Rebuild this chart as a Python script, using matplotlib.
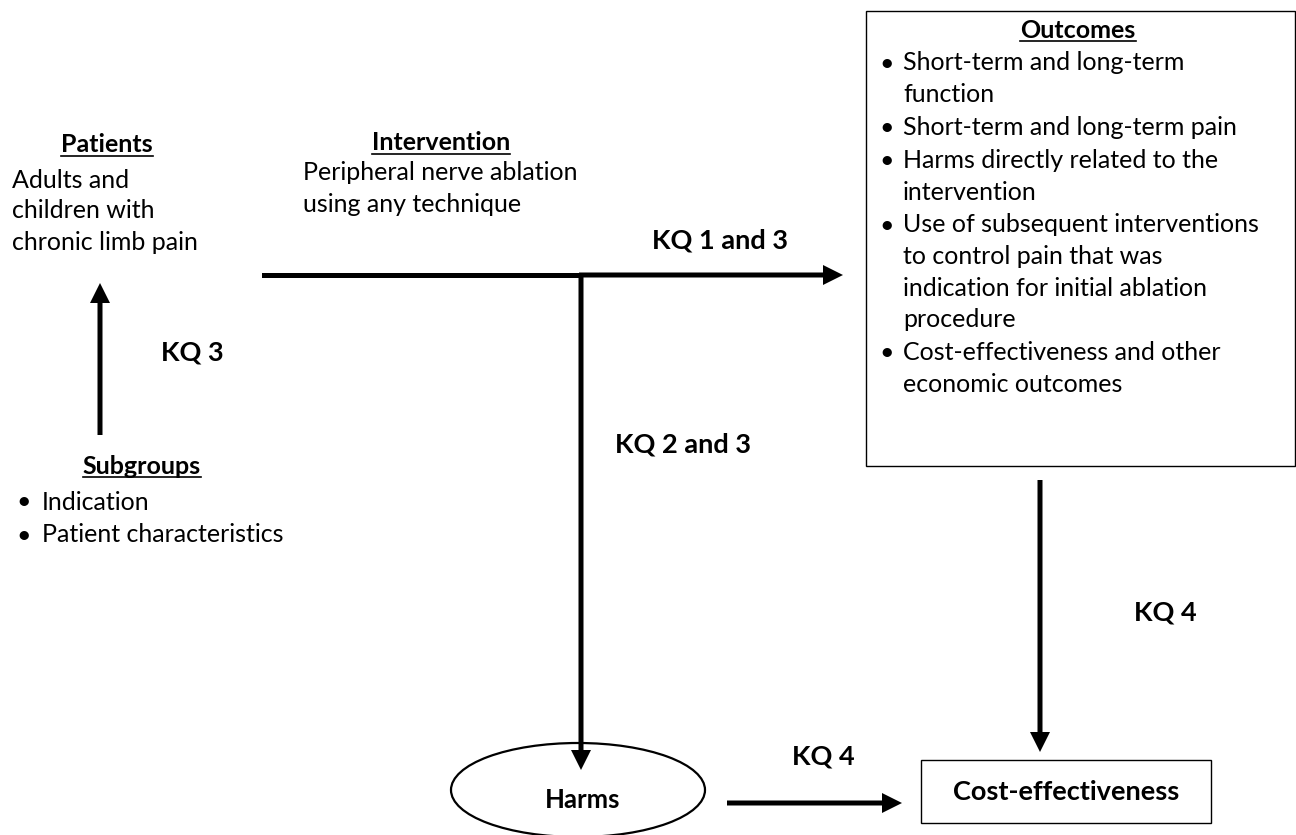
import matplotlib
matplotlib.use("Agg")
import matplotlib.pyplot as plt
from matplotlib.patches import Rectangle, Ellipse, FancyArrow

plt.rcParams['font.family'] = ['Lato', 'DejaVu Sans']

# text content of the diagram
patients_title = "Patients"
patients_lines = ["Adults and", "children with", "chronic limb pain"]
intervention_title = "Intervention"
intervention_lines = ["Peripheral nerve ablation", "using any technique"]
subgroups_title = "Subgroups"
subgroups_items = ["Indication", "Patient characteristics"]
outcomes_title = "Outcomes"
outcomes_items = [
    ["Short-term and long-term", "function"],
    ["Short-term and long-term pain"],
    ["Harms directly related to the", "intervention"],
    ["Use of subsequent interventions", "to control pain that was",
     "indication for initial ablation", "procedure"],
    ["Cost-effectiveness and other", "economic outcomes"],
]
kq_labels = ["KQ 1 and 3", "KQ 2 and 3", "KQ 3", "KQ 4", "KQ 4"]
harms_label = "Harms"
cost_label = "Cost-effectiveness"

W, H = 1296, 835
FS = 18
FSB = 19.5
LW = 5       # arrow shaft width in px
HW, HL = 20, 20

fig = plt.figure(figsize=(W / 100, H / 100), dpi=100)
ax = fig.add_axes([0, 0, 1, 1])
ax.set_xlim(0, W)
ax.set_ylim(H, 0)
ax.axis('off')

underline_targets = []


def header(x, y, s):
    t = ax.text(x, y, s, fontsize=FS, fontweight='bold', ha='center', va='center')
    underline_targets.append(t)


def arrow(x0, y0, x1, y1):
    ax.add_patch(FancyArrow(x0, y0, x1 - x0, y1 - y0, width=LW, head_width=HW,
                            head_length=HL, length_includes_head=True,
                            color='black', lw=0))


# patients
header(107, 145, patients_title)
for i, s in enumerate(patients_lines):
    ax.text(12, 180 + i * 31, s, fontsize=FS, va='center')

# intervention
header(441, 143, intervention_title)
for i, s in enumerate(intervention_lines):
    ax.text(303, 173 + i * 31, s, fontsize=FS, va='center')

# subgroups
header(142, 466, subgroups_title)
for i, s in enumerate(subgroups_items):
    y = 502 + i * 33
    ax.text(24, y, "\u2022", fontsize=FS, va='center', ha='center')
    ax.text(42, y, s, fontsize=FS, va='center')

# outcomes box
ax.add_patch(Rectangle((866, 11), 1295 - 866, 466 - 11, fill=False, ec='black', lw=1))
header(1078, 30, outcomes_title)
y = 63
for item in outcomes_items:
    ax.text(887, y, "\u2022", fontsize=FS, va='center', ha='center')
    for s in item:
        ax.text(903, y, s, fontsize=FS, va='center')
        y += 31.5
    y += 1.5

# arrows
ax.add_patch(Rectangle((262, 275 - LW / 2), 581 - 262, LW, color='black', lw=0))
arrow(579, 275, 843, 275)
arrow(581, 273, 581, 770)
arrow(100, 435, 100, 283)
arrow(1040, 480, 1040, 752)
arrow(727, 803, 902, 803)

# KQ labels
kq_pos = [(720, 240), (683, 445), (192, 352), (1165, 612), (823, 757)]
for (x, y), s in zip(kq_pos, kq_labels):
    ax.text(x, y, s, fontsize=FSB, fontweight='bold', ha='center', va='center')

# harms ellipse
ax.add_patch(Ellipse((578, 790), 254, 94, fill=False, ec='black', lw=1.6))
ax.text(583, 800, harms_label, fontsize=18.5, fontweight='bold', ha='center', va='center')

# cost-effectiveness box
ax.add_patch(Rectangle((921, 760), 1211 - 921, 823 - 760, fill=False, ec='black', lw=1))
ax.text(1066, 792, cost_label, fontsize=FSB, fontweight='bold', ha='center', va='center')

# underline headers
fig.canvas.draw()
inv = ax.transData.inverted()
for t in underline_targets:
    bb = t.get_window_extent()
    (xa, ya), (xb, yb) = inv.transform([[bb.x0, bb.y0], [bb.x1, bb.y1]])
    ax.plot([xa, xb], [ya - 1, ya - 1], color='black', lw=1.2)

fig.savefig("out.png", dpi=100)
